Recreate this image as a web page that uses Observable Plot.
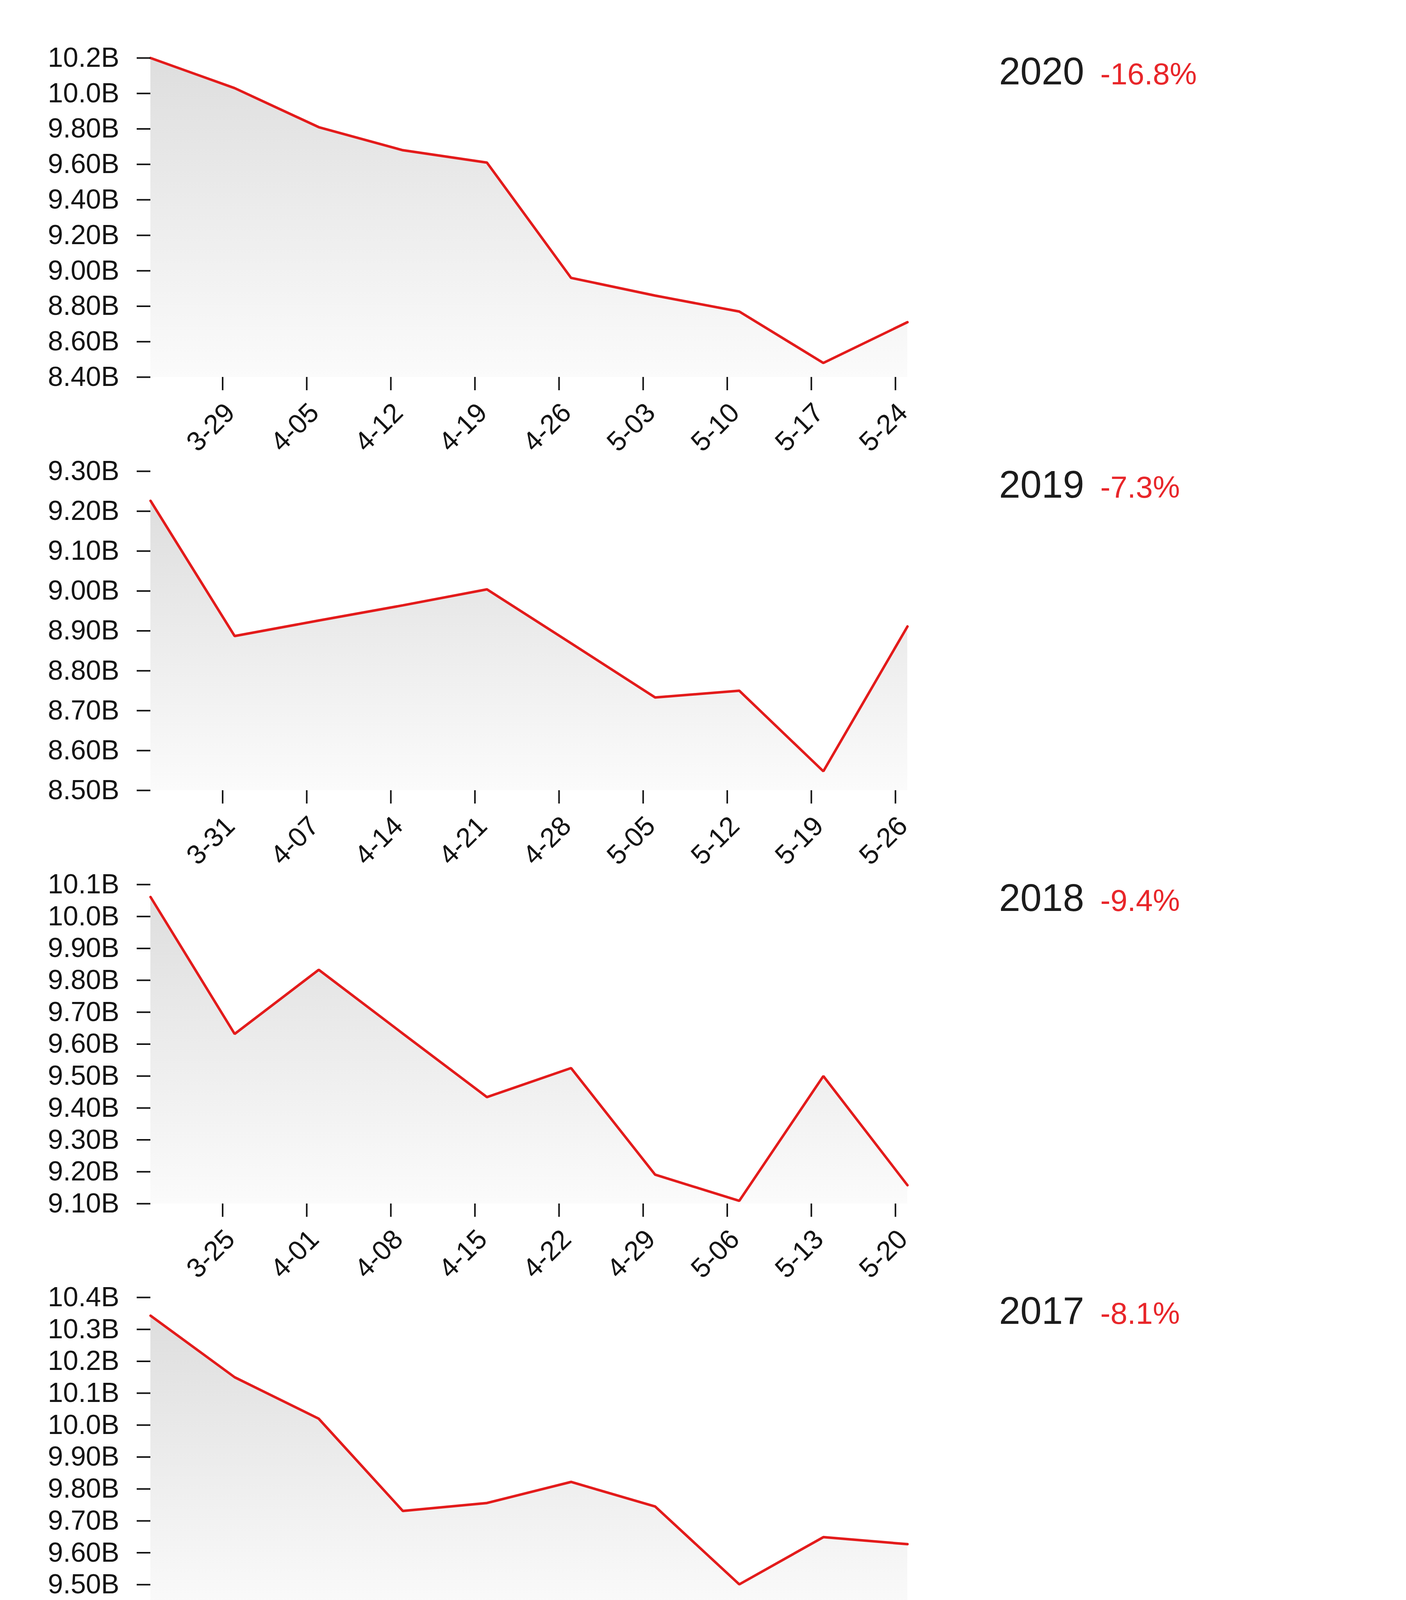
<!DOCTYPE html>
<html>
<head>
<meta charset="utf-8">
<script src="https://cdn.jsdelivr.net/npm/d3@7"></script>
<script src="https://cdn.jsdelivr.net/npm/@observablehq/plot@0.6"></script>
<style>
  html, body { margin: 0; padding: 0; background: #ffffff; }
  #root { position: relative; width: 3600px; height: 5496px; overflow: hidden; background: #ffffff;
          font-family: "Liberation Sans", Arial, Helvetica, sans-serif; }
  .panel { position: absolute; left: 0; }
  .panel svg { overflow: visible; background: transparent; }
  .label { position: absolute; font-size: 98px; line-height: 1; color: #1c1c1c; white-space: nowrap; }
  .label .pct { font-size: 78px; color: #e8262a; margin-left: 14px; }
</style>
</head>
<body>
<div id="root"></div>
<script>
// ---------- data ----------
const years = ["2020", "2019", "2018", "2017", "2016"];
const changes = ["-16.8%", "-7.3%", "-9.4%", "-8.1%", "-8.1%"];

const dates2020 = ["2020-03-23","2020-03-30","2020-04-06","2020-04-13","2020-04-20","2020-04-27","2020-05-04","2020-05-11","2020-05-18","2020-05-25"];
const values2020 = [10.20, 10.03, 9.81, 9.68, 9.61, 8.96, 8.86, 8.77, 8.48, 8.71];
const xTicks2020 = ["3-29","4-05","4-12","4-19","4-26","5-03","5-10","5-17","5-24"];
const yTicks2020 = [8.4, 8.6, 8.8, 9.0, 9.2, 9.4, 9.6, 9.8, 10.0, 10.2];

const dates2019 = ["2019-03-25","2019-04-01","2019-04-08","2019-04-15","2019-04-22","2019-04-29","2019-05-06","2019-05-13","2019-05-20","2019-05-27"];
const values2019 = [9.226, 8.887, 8.926, 8.964, 9.004, 8.869, 8.733, 8.750, 8.548, 8.911];
const xTicks2019 = ["3-31","4-07","4-14","4-21","4-28","5-05","5-12","5-19","5-26"];
const yTicks2019 = [8.5, 8.6, 8.7, 8.8, 8.9, 9.0, 9.1, 9.2, 9.3];

const dates2018 = ["2018-03-19","2018-03-26","2018-04-02","2018-04-09","2018-04-16","2018-04-23","2018-04-30","2018-05-07","2018-05-14","2018-05-21"];
const values2018 = [10.061, 9.632, 9.833, 9.633, 9.434, 9.525, 9.191, 9.109, 9.500, 9.158];
const xTicks2018 = ["3-25","4-01","4-08","4-15","4-22","4-29","5-06","5-13","5-20"];
const yTicks2018 = [9.1, 9.2, 9.3, 9.4, 9.5, 9.6, 9.7, 9.8, 9.9, 10.0, 10.1];

const dates2017 = ["2017-03-20","2017-03-27","2017-04-03","2017-04-10","2017-04-17","2017-04-24","2017-05-01","2017-05-08","2017-05-15","2017-05-22"];
const values2017 = [10.343, 10.150, 10.020, 9.731, 9.756, 9.822, 9.745, 9.501, 9.649, 9.627];
const xTicks2017 = ["3-26","4-02","4-09","4-16","4-23","4-30","5-07","5-14","5-21"];
const yTicks2017 = [9.4, 9.5, 9.6, 9.7, 9.8, 9.9, 10.0, 10.1, 10.2, 10.3, 10.4];

const dates2016 = ["2016-03-21","2016-03-28","2016-04-04","2016-04-11","2016-04-18","2016-04-25","2016-05-02","2016-05-09","2016-05-16","2016-05-23"];
const values2016 = [10.904, 10.726, 10.669, 10.279, 10.249, 10.459, 10.134, 10.168, 10.195, 10.019];
const xTicks2016 = ["3-27","4-03","4-10","4-17","4-24","5-01","5-08","5-15","5-22"];
const yTicks2016 = [10.0, 10.1, 10.2, 10.3, 10.4, 10.5, 10.6, 10.7, 10.8, 10.9, 11.0];

// ---------- layout (not data) ----------
const series = [
  {dates: dates2020, values: values2020, xTicks: xTicks2020, yTicks: yTicks2020},
  {dates: dates2019, values: values2019, xTicks: xTicks2019, yTicks: yTicks2019},
  {dates: dates2018, values: values2018, xTicks: xTicks2018, yTicks: yTicks2018},
  {dates: dates2017, values: values2017, xTicks: xTicks2017, yTicks: yTicks2017},
  {dates: dates2016, values: values2016, xTicks: xTicks2016, yTicks: yTicks2016}
];
const frameTop = [147.5, 1206, 2263.5, 3321, 4407.5];
const frameLeft = [385, 385, 385, 385, 377];
const labelLeft = [2558, 2558, 2558, 2558, 2550];
const FRAME_W = 1938, FRAME_H = 817, MT = 60, MB = 260, W = 3600;
const RED = "#e31b1b";
const FONT = "Liberation Sans, Arial, Helvetica, sans-serif";
const AX_FONT = 70;

const root = document.getElementById("root");
const parseDay = d3.utcParse("%Y-%m-%d");
const fmtTick = d3.utcFormat("%-m-%d");
const fmtY = d => d3.format(".3r")(d) + "B";

series.forEach((s, i) => {
  const year = +years[i];
  const data = s.dates.map((d, k) => ({date: parseDay(d), value: s.values[k]}));
  const tickDates = s.xTicks.map(t => { const [m, d] = t.split("-").map(Number); return new Date(Date.UTC(year, m - 1, d)); });
  const yMin = d3.min(s.yTicks), yMax = d3.max(s.yTicks);
  const gid = "grad" + i;

  const svg = Plot.plot({
    width: W,
    height: MT + FRAME_H + MB,
    marginTop: MT,
    marginBottom: MB,
    marginLeft: frameLeft[i],
    marginRight: W - frameLeft[i] - FRAME_W,
    style: {background: "transparent", overflow: "visible", fontFamily: FONT, fontSize: AX_FONT + "px", color: "#141414"},
    x: {type: "utc", domain: [data[0].date, data[data.length - 1].date]},
    y: {domain: [yMin, yMax]},
    marks: [
      Plot.areaY(data, {x: "date", y1: yMin, y2: "value", fill: `url(#${gid})`}),
      Plot.lineY(data, {x: "date", y: "value", stroke: RED, strokeWidth: 6.5, strokeLinejoin: "miter"}),
      Plot.axisY(s.yTicks, {tickSize: 35, tickPadding: 45, tickFormat: fmtY, strokeWidth: 4, fontSize: AX_FONT, label: null}),
      Plot.axisX(tickDates, {tickSize: 34, tickPadding: 26, tickRotate: -45, textAnchor: "end", lineAnchor: "top",
                             tickFormat: fmtTick, strokeWidth: 4, fontSize: AX_FONT, label: null})
    ]
  });

  const ns = "http://www.w3.org/2000/svg";
  const defs = document.createElementNS(ns, "defs");
  const lg = document.createElementNS(ns, "linearGradient");
  lg.setAttribute("id", gid);
  lg.setAttribute("x1", "0"); lg.setAttribute("y1", "0");
  lg.setAttribute("x2", "0"); lg.setAttribute("y2", "1");
  [["0", "#dedede"], ["1", "#fbfbfb"]].forEach(([o, c]) => {
    const st = document.createElementNS(ns, "stop");
    st.setAttribute("offset", o); st.setAttribute("stop-color", c);
    lg.appendChild(st);
  });
  defs.appendChild(lg);
  svg.insertBefore(defs, svg.firstChild);

  const panel = document.createElement("div");
  panel.className = "panel";
  panel.style.top = (frameTop[i] - MT) + "px";
  panel.appendChild(svg);
  root.appendChild(panel);

  const label = document.createElement("div");
  label.className = "label";
  const baseline = frameTop[i] + 68;
  label.style.top = (baseline - 0.8465 * 98) + "px";
  label.style.left = labelLeft[i] + "px";
  const ys = document.createElement("span"); ys.textContent = years[i];
  const sp = document.createTextNode(" ");
  const ps = document.createElement("span"); ps.className = "pct"; ps.textContent = changes[i];
  label.appendChild(ys); label.appendChild(sp); label.appendChild(ps);
  root.appendChild(label);
});
</script>
</body>
</html>
